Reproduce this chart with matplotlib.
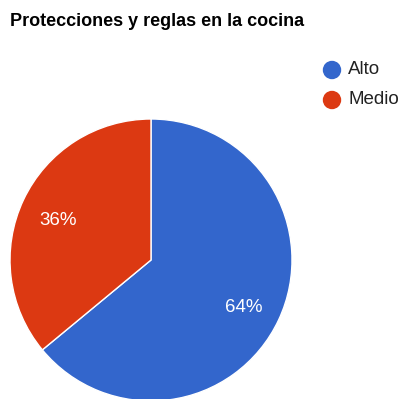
import matplotlib.pyplot as plt

# --- data ---
labels = ["Alto", "Medio"]
values = [64, 36]
colors = ["#3366CC", "#DC3912"]
title = "Protecciones y reglas en la cocina"

W, H = 401, 399
fig = plt.figure(figsize=(W / 100, H / 100), dpi=100)
ax = fig.add_axes([0, 0, 1, 1])

cx, cy, r = 151, 260, 141

# y axis runs downward (pixel coords), so -90 is 12 o'clock and
# counterclock=True sweeps clockwise on screen
wedges, texts, autotexts = ax.pie(
    values, colors=colors, startangle=-90, counterclock=True,
    center=(cx, cy), radius=r, autopct="%d%%", pctdistance=0.73,
    wedgeprops=dict(edgecolor="white", linewidth=1),
    textprops=dict(color="white", fontsize=13.5, family="Liberation Sans"),
    frame=True,
)
for t in autotexts:
    t.set_va("center_baseline")
    x, y = t.get_position()
    t.set_position((x, y + 2))

ax.set_xlim(0, W)
ax.set_ylim(H, 0)
ax.set_aspect("equal")
ax.axis("off")

ax.text(10, 21, title, fontsize=13, fontweight="bold", family="Liberation Sans",
        color="#000000", va="center", ha="left")

# legend
for i, (lab, col) in enumerate(zip(labels, colors)):
    y = 70 + i * 30
    ax.add_patch(plt.Circle((332, y), 8.5, color=col))
    ax.text(348, y, lab, fontsize=13.5, family="Liberation Sans", color="#222222",
            va="center", ha="left")

fig.savefig("out.png", dpi=100)
